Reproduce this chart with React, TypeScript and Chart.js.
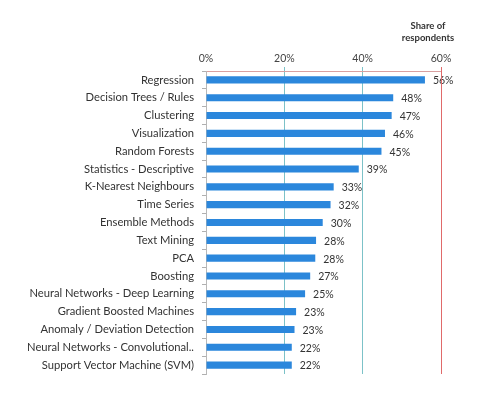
import React, { useEffect, useRef } from "react";
import { Chart, registerables } from "chart.js";
Chart.register(...registerables);

const categories = [
  "Regression",
  "Decision Trees / Rules",
  "Clustering",
  "Visualization",
  "Random Forests",
  "Statistics - Descriptive",
  "K-Nearest Neighbours",
  "Time Series",
  "Ensemble Methods",
  "Text Mining",
  "PCA",
  "Boosting",
  "Neural Networks - Deep Learning",
  "Gradient Boosted Machines",
  "Anomaly / Deviation Detection",
  "Neural Networks - Convolutional..",
  "Support Vector Machine (SVM)",
];
const shares = [55.9, 47.8, 47.4, 45.7, 44.8, 39.0, 32.6, 31.8, 29.8, 28.1, 27.9, 26.6, 25.3, 23.0, 22.6, 21.9, 21.9];
const valueLabels = ["56%", "48%", "47%", "46%", "45%", "39%", "33%", "32%", "30%", "28%", "28%", "27%", "25%", "23%", "23%", "22%", "22%"];
const axisTitle = ["Share of", "respondents"];
const maxTick = 60;

const FONT = "Lato, 'Open Sans', sans-serif";

export default function App() {
  const ref = useRef<HTMLCanvasElement | null>(null);
  useEffect(() => {
    document.body.style.margin = "0";
    const canvas = ref.current!;
    const labelPlugin = {
      id: "valueLabels",
      afterDatasetsDraw(chart: any) {
        const ctx = chart.ctx;
        const meta = chart.getDatasetMeta(0);
        ctx.save();
        ctx.font = `10.5px ${FONT}`;
        ctx.fillStyle = "#333333";
        ctx.textAlign = "left";
        ctx.textBaseline = "middle";
        meta.data.forEach((bar: any, i: number) => {
          ctx.fillText(valueLabels[i], bar.x + 8, bar.y + 1);
        });
        ctx.restore();
      },
      afterDraw(chart: any) {
        const ctx = chart.ctx;
        const xs = chart.scales.x;
        const px = xs.getPixelForValue(maxTick);
        const x = Math.floor(px) + 0.5;
        ctx.save();
        ctx.strokeStyle = "#e06a6a";
        ctx.lineWidth = 1;
        ctx.beginPath();
        ctx.moveTo(x, chart.chartArea.top - 4);
        ctx.lineTo(x, chart.chartArea.bottom);
        ctx.stroke();
        const cx = px - 13;
        ctx.font = `bold 9.5px ${FONT}`;
        ctx.fillStyle = "#333333";
        ctx.textAlign = "center";
        ctx.textBaseline = "middle";
        ctx.fillText(axisTitle[0], cx, 26);
        ctx.fillText(axisTitle[1], cx, 38);
        ctx.restore();
      },
    };
    const chart = new Chart(canvas, {
      type: "bar",
      data: {
        labels: categories,
        datasets: [
          {
            data: shares,
            backgroundColor: "#2b87dc",
            borderWidth: 0,
            barPercentage: 0.4,
            categoryPercentage: 1,
          },
        ],
      },
      options: {
        indexAxis: "y",
        animation: false,
        responsive: false,
        layout: { padding: { top: 0, right: 58, bottom: 23, left: 0 } },
        plugins: { legend: { display: false }, tooltip: { enabled: false } },
        scales: {
          x: {
            position: "top",
            min: 0,
            max: maxTick,
            ticks: {
              stepSize: 20,
              callback: (v: any) => v + "%",
              color: "#444444",
              font: { family: FONT, size: 10.5 },
              padding: 2,
            },
            grid: {
              color: (c: any) => {
                const v = c.tick ? c.tick.value : null;
                if (v === 0 || v === maxTick) return "rgba(0,0,0,0)";
                return "#7cc2c8";
              },
              tickLength: 4,
            },
            border: { color: "#d9a0a0" },
            afterFit: (s: any) => {
              s.height = 71;
            },
          },
          y: {
            ticks: {
              color: "#333333",
              font: { family: FONT, size: 11.2 },
              padding: 8,
              autoSkip: false,
            },
            grid: { drawOnChartArea: false, offset: true, tickLength: 4, color: "#b0b0b0" },
            border: { color: "#b8b8b8" },
            afterFit: (s: any) => {
              s.width = 206;
            },
          },
        },
      },
      plugins: [labelPlugin],
    });
    return () => chart.destroy();
  }, []);
  return (
    <div style={{ position: "fixed", left: 0, top: 0, width: 499, height: 397, background: "#fff" }}>
      <canvas ref={ref} width={499} height={397} />
    </div>
  );
}
